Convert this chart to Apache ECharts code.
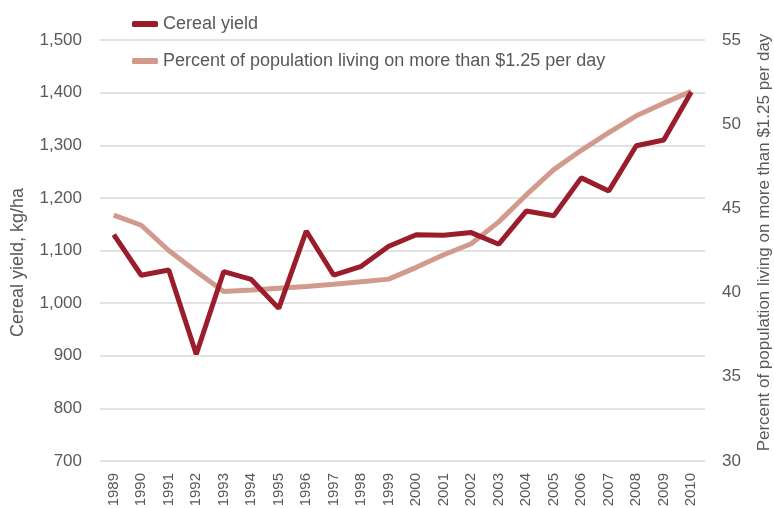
<!DOCTYPE html>
<html>
<head>
<meta charset="utf-8">
<script src="https://cdn.jsdelivr.net/npm/echarts@6/dist/echarts.min.js"></script>
<style>
  html, body { margin: 0; padding: 0; background: #fff; }
  #chart { width: 774px; height: 508px; }
</style>
</head>
<body>
<div id="chart"></div>
<script>
// years on the x axis
const years = ['1989', '1990', '1991', '1992', '1993', '1994', '1995', '1996', '1997', '1998', '1999',
    '2000', '2001', '2002', '2003', '2004', '2005', '2006', '2007', '2008', '2009', '2010'];
// kg/ha, left axis
const cerealYield = [1130, 1053, 1063, 903, 1060, 1045, 990, 1137, 1053, 1070, 1108,
    1130, 1129, 1134, 1112, 1175, 1166, 1238, 1213, 1299, 1310, 1401];
// percent, right axis
const pctAbove125 = [44.6, 44.0, 42.5, 41.25, 40.06, 40.15, 40.26, 40.36, 40.5, 40.65, 40.8,
    41.5, 42.25, 42.9, 44.2, 45.8, 47.3, 48.45, 49.5, 50.5, 51.25, 51.95];

const seriesNames = ['Cereal yield', 'Percent of population living on more than $1.25 per day'];
const leftTicks = { min: 700, max: 1500, step: 100 };
const rightTicks = { min: 30, max: 55, step: 5 };

const FONT = '"Liberation Sans", Arial, sans-serif';
const TEXT = '#595959';
const DARK = '#9b1c2a';
const LIGHT = '#d29a8c';

const myChart = echarts.init(document.getElementById('chart'));
const option = {
    animation: false,
    textStyle: { fontFamily: FONT, color: TEXT },
    grid: { left: 100, right: 69, top: 40, bottom: 47, outerBoundsMode: 'none', containLabel: false },
    legend: {
        orient: 'vertical',
        left: 127,
        top: 10,
        itemWidth: 26,
        itemHeight: 6,
        itemGap: 19,
        icon: 'roundRect',
        textStyle: { fontFamily: FONT, fontSize: 18, color: TEXT },
        data: seriesNames
    },
    xAxis: {
        type: 'category',
        data: years,
        boundaryGap: true,
        axisLine: { show: false },
        axisTick: { show: false },
        axisLabel: { rotate: 90, margin: 12, fontSize: 15, color: TEXT, fontFamily: FONT }
    },
    yAxis: [
        {
            type: 'value',
            min: leftTicks.min,
            max: leftTicks.max,
            interval: leftTicks.step,
            name: 'Cereal yield, kg/ha',
            nameLocation: 'middle',
            nameGap: 73,
            nameTextStyle: { fontSize: 18, color: TEXT, fontFamily: FONT, padding: [0, 24, 0, 0] },
            axisLine: { show: false },
            axisTick: { show: false },
            axisLabel: {
                fontSize: 17, color: TEXT, fontFamily: FONT, margin: 18,
                formatter: v => v.toLocaleString('en-US')
            },
            splitLine: { lineStyle: { color: '#d9d9d9', width: 1.5 } }
        },
        {
            type: 'value',
            position: 'right',
            min: rightTicks.min,
            max: rightTicks.max,
            interval: rightTicks.step,
            name: seriesNames[1],
            nameLocation: 'middle',
            nameGap: 51,
            nameTextStyle: { fontSize: 17, color: TEXT, fontFamily: FONT, padding: [0, 0, 0, 16] },
            axisLine: { show: false },
            axisTick: { show: false },
            axisLabel: { fontSize: 17, color: TEXT, fontFamily: FONT, margin: 17 },
            splitLine: { show: false }
        }
    ],
    series: [
        {
            name: seriesNames[0],
            type: 'line',
            yAxisIndex: 0,
            data: cerealYield,
            symbol: 'none',
            lineStyle: { color: DARK, width: 5 },
            itemStyle: { color: DARK },
            z: 3
        },
        {
            name: seriesNames[1],
            type: 'line',
            yAxisIndex: 1,
            data: pctAbove125,
            symbol: 'none',
            lineStyle: { color: LIGHT, width: 5 },
            itemStyle: { color: LIGHT },
            z: 2
        }
    ]
};
option && myChart.setOption(option);
</script>
</body>
</html>
